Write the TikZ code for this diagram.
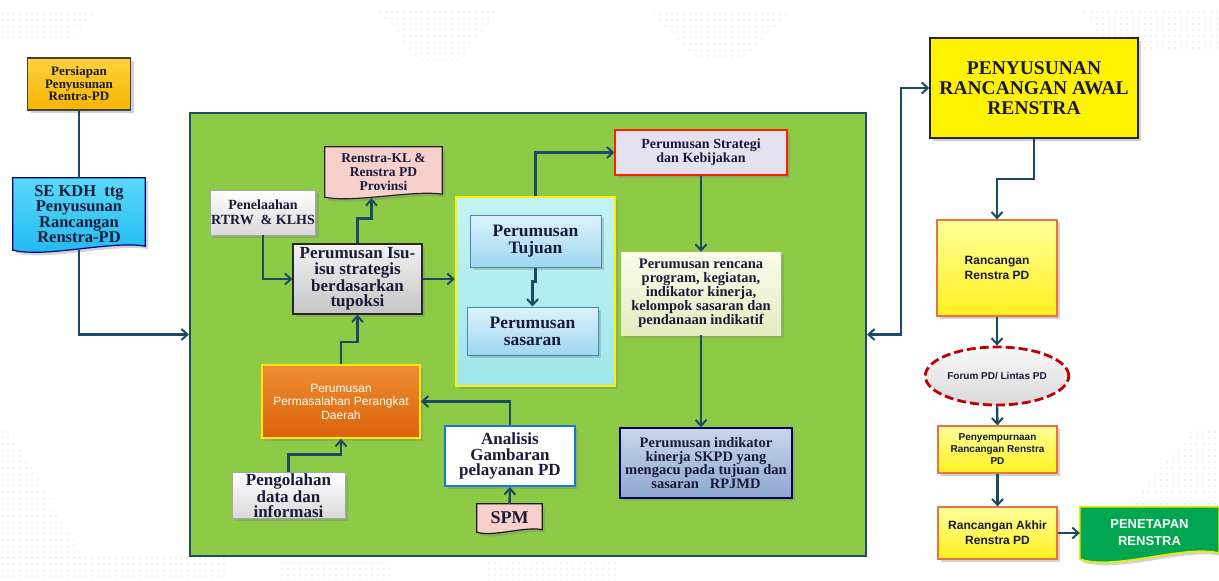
\documentclass[tikz,border=0pt]{standalone}
\usepackage{fontspec}
\setmainfont{Liberation Serif}
\setsansfont{Liberation Sans}
\usetikzlibrary{arrows.meta,shapes.geometric,shadows,calc}
\pgfdeclarelayer{bgA}
\pgfdeclarelayer{bgB}
\pgfsetlayers{bgA,bgB,main}
\definecolor{txtc}{HTML}{1A1A3A}
\definecolor{linec}{HTML}{1B4A63}
\definecolor{dotc}{HTML}{E3E3E3}
\definecolor{maingreen}{HTML}{8DCB47}
\definecolor{mainborder}{HTML}{1F4E5F}
\definecolor{goldA}{HTML}{FFD23C}
\definecolor{goldB}{HTML}{F5B400}
\definecolor{cyanA}{HTML}{5AD8FA}
\definecolor{cyanB}{HTML}{1DB9EE}
\definecolor{pinkF}{HTML}{F7D0CC}
\definecolor{panelA}{HTML}{C4F3F3}
\definecolor{panelB}{HTML}{9FE6EA}
\definecolor{ltblueA}{HTML}{DDF3FC}
\definecolor{ltblueB}{HTML}{9FD6F0}
\definecolor{ltblueD}{HTML}{3C8CB4}
\definecolor{lavF}{HTML}{E4E2EE}
\definecolor{rencA}{HTML}{FAFBEA}
\definecolor{rencB}{HTML}{E4ECC0}
\definecolor{indA}{HTML}{CAD7EC}
\definecolor{indB}{HTML}{8EA6CF}
\definecolor{oraA}{HTML}{F08D32}
\definecolor{oraB}{HTML}{DA630A}
\definecolor{yelA}{HTML}{FFFF9A}
\definecolor{yelB}{HTML}{FFF01E}
\definecolor{yelD}{HTML}{E8743C}
\definecolor{penG}{HTML}{00A650}
\newcommand\mydoc[3]{%
  \path[#2] (#1.north west) -- (#1.north east) -- ($(#1.south east)+(0,#3)$)
    .. controls ($(#1.south east)!0.5!(#1.south)+(0,2.5*#3)$) and ($(#1.south west)!0.5!(#1.south)+(0,-2*#3)$) .. (#1.south west) -- cycle;}
\newcommand\dotgrid[4]{%
  \foreach \i in {0,...,#3}{\foreach \j in {0,...,#4}{\fill[dotc] ({#1+6*\i},{#2-6*\j}) circle (0.8);}}}
\begin{document}
\begin{tikzpicture}[x=1pt,y=1pt,
  txt/.style={text=txtc, align=center, inner sep=1pt},
  shad/.style={drop shadow={opacity=0.35, shadow xshift=3pt, shadow yshift=-3pt}},
  conn/.style={draw=linec, line width=2.4pt, -{Straight Barb[length=6pt,width=11pt,line width=2pt]}},
  plain/.style={draw=linec, line width=2.4pt},
  yellowbox/.style={txt, draw=yelD, line width=1.2pt, top color=yelA, bottom color=yelB, shad, font=\sffamily\bfseries},
  greybox/.style={txt, draw=gray!70, line width=0.8pt, top color=white, bottom color=gray!30, shad},
  bluebox/.style={txt, draw=ltblueD, line width=1pt, top color=ltblueA, bottom color=ltblueB, shad, font=\bfseries\fontsize{17.5}{17}\selectfont}
]
\useasboundingbox (0,0) rectangle (1219,-581);
\begin{pgfonlayer}{bgA}
\fill[white] (0,0) rectangle (1219,-581);
\begin{scope}\clip (0,-12) -- (100,-12) -- (65,-42) -- (0,-42) -- cycle; \dotgrid{2}{-14}{17}{5}\end{scope}
\begin{scope}\clip (378,-10) -- (500,-10) -- (460,-60) -- (418,-60) -- cycle; \dotgrid{380}{-12}{20}{8}\end{scope}
\begin{scope}\clip (652,-12) -- (790,-12) -- (745,-60) -- (697,-60) -- cycle; \dotgrid{654}{-14}{23}{8}\end{scope}
\begin{scope}\clip (1083,-10) -- (1219,-10) -- (1219,-52) -- (1110,-52) -- cycle; \dotgrid{1085}{-12}{23}{7}\end{scope}
\begin{scope}\clip (0,-430) -- (10,-430) -- (85,-558) -- (0,-558) -- cycle; \dotgrid{2}{-432}{14}{21}\end{scope}
\begin{scope}\clip (0,-556) -- (225,-556) -- (225,-581) -- (0,-581) -- cycle; \dotgrid{2}{-558}{37}{4}\end{scope}
\begin{scope}\clip (280,-562) -- (390,-562) -- (390,-581) -- (280,-581) -- cycle; \dotgrid{282}{-563}{18}{3}\end{scope}
\begin{scope}\clip (487,-562) -- (620,-562) -- (620,-581) -- (487,-581) -- cycle; \dotgrid{489}{-563}{22}{3}\end{scope}
\begin{scope}\clip (1193,-430) -- (1219,-430) -- (1219,-508) -- (1125,-508) -- cycle; \dotgrid{1125}{-432}{16}{13}\end{scope}
\node[draw=mainborder, line width=2.2pt, fill=maingreen, minimum width=676, minimum height=443, inner sep=0] (main) at (528,-334.5) {};
\end{pgfonlayer}

% left column
\node[txt, draw=gray!50!black, line width=1.2pt, top color=goldA, bottom color=goldB, shad, minimum width=103, minimum height=52, font=\bfseries\fontsize{13}{12.5}\selectfont] (persiapan) at (79,-84) {Persiapan\\Penyusunan\\Rentra-PD};
\node[txt, minimum width=132, minimum height=72, font=\bfseries\fontsize{16.5}{15.5}\selectfont] (sekdh) at (79,-214) {SE KDH~ ttg\\Penyusunan\\Rancangan\\Renstra-PD};

% inside main
\node[txt, minimum width=117, minimum height=50, font=\bfseries\fontsize{13.5}{14}\selectfont] (renstrakl) at (383.5,-172) {Renstra-KL \&\\Renstra PD\\Provinsi};
\node[greybox, minimum width=100, minimum height=45, font=\bfseries\fontsize{14}{15}\selectfont] (penelaahan) at (263,-212.5) {Penelaahan\\RTRW~ \& KLHS};
\node[txt, draw=gray!30!black, line width=1.2pt, top color=gray!10, bottom color=gray!45, shad, minimum width=129, minimum height=70, font=\bfseries\fontsize{17}{15.5}\selectfont] (isu) at (357.5,-279) {Perumusan Isu-\\isu strategis\\berdasarkan\\tupoksi};
\node[draw=yellow, line width=2.5pt, top color=panelA, bottom color=panelB, shad, minimum width=159, minimum height=189, inner sep=0] (panel) at (535.5,-291.5) {};
\node[bluebox, minimum width=131, minimum height=52] (tujuan) at (535.5,-241) {Perumusan\\Tujuan};
\node[bluebox, minimum width=131, minimum height=48] (sasaran) at (532.5,-331) {Perumusan\\sasaran};
\node[txt, draw=red!75!orange, line width=1.2pt, fill=lavF, shad, minimum width=172, minimum height=45, font=\bfseries\fontsize{14}{12.5}\selectfont] (strategi) at (701,-152.5) {Perumusan Strategi\\dan Kebijakan};
\node[txt, top color=rencA, bottom color=rencB, shad, minimum width=160, minimum height=83, font=\bfseries\fontsize{14.5}{14}\selectfont] (rencana) at (701,-293.5) {Perumusan rencana\\program, kegiatan,\\indikator kinerja,\\kelompok sasaran dan\\pendanaan indikatif};
\node[txt, draw=blue!40!black, line width=1.5pt, top color=indA, bottom color=indB, shad, minimum width=172, minimum height=70, font=\bfseries\fontsize{14.5}{13.5}\selectfont] (indikator) at (706,-463) {Perumusan indikator\\kinerja SKPD yang\\mengacu pada tujuan dan\\sasaran~~ RPJMD};
\node[align=center, text=white, draw=yellow!90!orange, line width=1.8pt, top color=oraA, bottom color=oraB, shad, minimum width=158, minimum height=73, font=\sffamily\fontsize{12}{13.5}\selectfont] (permasalahan) at (341,-401.5) {Perumusan\\Permasalahan Perangkat\\Daerah};
\node[greybox, minimum width=113, minimum height=45, font=\bfseries\fontsize{17}{15}\selectfont] (pengolahan) at (288.5,-495.5) {Pengolahan\\data dan\\informasi};
\node[txt, draw=cyan!60!blue, line width=2.2pt, fill=white, shad, minimum width=130, minimum height=60, font=\bfseries\fontsize{17}{15.5}\selectfont] (analisis) at (510,-456) {Analisis\\Gambaran\\pelayanan PD};
\node[txt, minimum width=65, minimum height=28, font=\bfseries\fontsize{18}{18}\selectfont] (spm) at (509.5,-518) {SPM};

% right column
\node[txt, draw=gray!30!black, line width=1.5pt, fill=yellow, shad, minimum width=208, minimum height=100, font=\bfseries\fontsize{19.5}{20}\selectfont] (penyusunan) at (1034,-88) {PENYUSUNAN\\RANCANGAN AWAL\\RENSTRA};
\node[yellowbox, minimum width=120, minimum height=96, font=\sffamily\bfseries\fontsize{12}{15}\selectfont] (rancangan) at (997,-268) {Rancangan\\Renstra PD};
\node[ellipse, txt, draw=red!75!black, line width=2.8pt, dash pattern=on 9pt off 4pt, top color=gray!5, bottom color=gray!30, minimum width=128, minimum height=58, font=\sffamily\bfseries\fontsize{10}{12}\selectfont] (forum) at (997,-376) {Forum PD/ Lintas PD};
\node[yellowbox, minimum width=119, minimum height=47, font=\sffamily\bfseries\fontsize{10}{12}\selectfont] (penyempurnaan) at (997.5,-449.5) {Penyempurnaan\\Rancangan Renstra\\PD};
\node[yellowbox, minimum width=119, minimum height=52, font=\sffamily\bfseries\fontsize{12}{15}\selectfont] (akhir) at (997.5,-533) {Rancangan Akhir\\Renstra PD};
\node[align=center, text=white, inner sep=1pt, minimum width=139, minimum height=52, font=\sffamily\bfseries\fontsize{13}{17}\selectfont] (penetapan) at (1149.5,-533) {PENETAPAN\\RENSTRA};

% document shapes
\begin{pgfonlayer}{bgB}
\mydoc{sekdh}{draw=blue!50!black, line width=1.2pt, top color=cyanA, bottom color=cyanB, shad}{4}
\mydoc{renstrakl}{draw=gray!30!black, line width=1.2pt, fill=pinkF, shad}{3}
\mydoc{spm}{draw=gray!20!black, line width=1.2pt, fill=pinkF, shad}{2.5}
\mydoc{penetapan}{draw=yellow!90!green, line width=1.8pt, fill=penG, shad}{6}
\end{pgfonlayer}

% connectors
\draw[plain] (persiapan.south) -- (persiapan.south |- sekdh.north);
\draw[conn] (sekdh.south) |- (main.west);
\draw[conn] (penelaahan.south) |- (isu.west);
\draw[conn] (isu.north) -- ++(0,25) -| ($(renstrakl.south)+(-12,-1)$);
\draw[conn] (isu.east) -- (isu.east -| panel.west);
\draw[conn] (panel.north) |- (strategi.west);
\draw[conn] (tujuan.south) -- ++(0,-14) -| (sasaran.north);
\draw[conn] (strategi.south) -- (strategi.south |- rencana.north);
\draw[conn] (rencana.south) -- (rencana.south |- indikator.north);
\draw[conn] (permasalahan.north) -- ++(0,22) -| (isu.south);
\draw[conn] (pengolahan.north) -- ++(0,18) -| (permasalahan.south);
\draw[conn] (analisis.north) |- (permasalahan.east);
\draw[conn] (spm.north) -- (analisis.south);
\draw[draw=linec, line width=2.4pt, {Straight Barb[length=6pt,width=11pt,line width=2pt]}-{Straight Barb[length=6pt,width=11pt,line width=2pt]}] (main.east) -- ++(34,0) |- (penyusunan.west);
\draw[conn] (penyusunan.south) -- ++(0,-40) -| (rancangan.north);
\draw[conn] (rancangan.south) -- (forum.north);
\draw[conn] (forum.south) -- (penyempurnaan.north);
\draw[conn] (penyempurnaan.south) -- (akhir.north);
\draw[conn] (akhir.east) -- (akhir.east -| penetapan.west);
\end{tikzpicture}
\end{document}
